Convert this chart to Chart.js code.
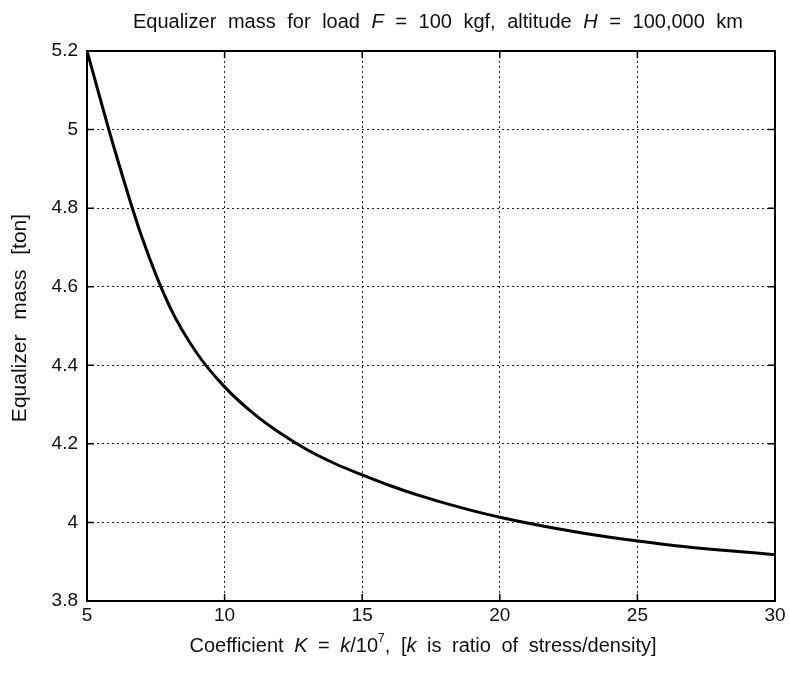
<!DOCTYPE html>
<html>
<head>
<meta charset="utf-8">
<script src="https://cdn.jsdelivr.net/npm/chart.js@4.4.1/dist/chart.umd.min.js"></script>
<style>
  html, body { margin: 0; padding: 0; background: #fff; }
  #wrap { width: 789px; height: 675px; }
</style>
</head>
<body>
<div id="wrap"><canvas id="chart" width="789" height="675"></canvas></div>
<script>
// values
const kValues = [5, 6, 7, 8, 9, 10, 11, 12, 13, 14, 15, 16, 17, 18, 19, 20, 22, 24, 26, 28, 30];
const massValues = [5.2, 4.95, 4.725, 4.55, 4.43, 4.345, 4.28, 4.228, 4.185, 4.15, 4.121, 4.094, 4.07, 4.049, 4.03, 4.013, 3.985, 3.962, 3.944, 3.93, 3.918];
const xTicks = [5, 10, 15, 20, 25, 30];
const yTicks = [3.8, 4, 4.2, 4.4, 4.6, 4.8, 5, 5.2];

const FONT = '"Liberation Sans", Arial, Helvetica, sans-serif';

// title pieces, some in italics
const titleParts = [
  { t: 'Equalizer mass for load ' }, { t: 'F', i: true }, { t: ' = 100 kgf, altitude ' },
  { t: 'H', i: true }, { t: ' = 100,000 km' }
];
const xLabelParts = [
  { t: 'Coefficient ' }, { t: 'K', i: true }, { t: ' = ' }, { t: 'k', i: true }, { t: '/10' },
  { t: '7', sup: true }, { t: ', [' }, { t: 'k', i: true }, { t: ' is ratio of stress/density]' }
];
const yLabel = 'Equalizer mass [ton]';

function fontFor(p, size) {
  const s = p.sup ? Math.round(size * 0.62) : size;
  return (p.i ? 'italic ' : '') + s + 'px ' + FONT;
}

// draws segments centred at cx, with a bit of extra space between words
function drawRich(ctx, parts, cx, cy, size, gap) {
  const pieces = [];
  parts.forEach(p => {
    ctx.font = fontFor(p, size);
    const words = p.t.split(' ');
    words.forEach((w, idx) => {
      if (w.length) pieces.push({ p, w, width: ctx.measureText(w).width });
      if (idx < words.length - 1) {
        ctx.font = fontFor({}, size);
        pieces.push({ space: true, width: ctx.measureText(' ').width + gap });
      }
    });
  });
  const total = pieces.reduce((a, b) => a + b.width, 0);
  let x = cx - total / 2;
  ctx.textBaseline = 'middle';
  ctx.textAlign = 'left';
  pieces.forEach(pc => {
    if (!pc.space) {
      ctx.font = fontFor(pc.p, size);
      ctx.fillText(pc.w, x, pc.p.sup ? cy - size * 0.35 : cy);
    }
    x += pc.width;
  });
}

const framePlugin = {
  id: 'frame',
  afterDatasetsDraw(chart) {
    const { ctx, chartArea: a, scales } = chart;
    ctx.save();
    ctx.strokeStyle = '#000';
    ctx.lineWidth = 1.5;
    // inward ticks on all four sides
    ctx.beginPath();
    xTicks.forEach(v => {
      const x = scales.x.getPixelForValue(v);
      ctx.moveTo(x, a.bottom); ctx.lineTo(x, a.bottom - 7);
      ctx.moveTo(x, a.top); ctx.lineTo(x, a.top + 7);
    });
    yTicks.forEach(v => {
      const y = scales.y.getPixelForValue(v);
      ctx.moveTo(a.left, y); ctx.lineTo(a.left + 7, y);
      ctx.moveTo(a.right, y); ctx.lineTo(a.right - 7, y);
    });
    ctx.stroke();
    ctx.lineWidth = 2;
    ctx.strokeRect(a.left, a.top, a.right - a.left, a.bottom - a.top);
    ctx.restore();
  },
  afterDraw(chart) {
    const { ctx } = chart;
    ctx.save();
    ctx.fillStyle = '#111';
    drawRich(ctx, titleParts, 438, 22, 20, 6);
    drawRich(ctx, xLabelParts, 423, 646, 20, 5);
    ctx.translate(20, 318);
    ctx.rotate(-Math.PI / 2);
    drawRich(ctx, [{ t: yLabel }], 0, 0, 21, 9);
    ctx.restore();
  }
};

new Chart(document.getElementById('chart'), {
  type: 'line',
  data: {
    datasets: [{
      data: kValues.map((k, i) => ({ x: k, y: massValues[i] })),
      borderColor: '#000',
      borderWidth: 3,
      pointRadius: 0,
      fill: false,
      cubicInterpolationMode: 'monotone'
    }]
  },
  options: {
    responsive: false,
    animation: false,
    layout: { padding: { top: 51, right: 14, left: 0, bottom: 0 } },
    plugins: { legend: { display: false }, tooltip: { enabled: false } },
    scales: {
      x: {
        type: 'linear',
        min: 5, max: 30,
        afterBuildTicks: s => { s.ticks = xTicks.map(v => ({ value: v })); },
        afterFit: s => { s.height = 675 - 601; },
        ticks: { color: '#111', font: { family: FONT, size: 19 }, padding: 3, maxRotation: 0 },
        grid: { color: '#222', lineWidth: 1, drawTicks: false },
        border: { display: false, dash: [2, 3] }
      },
      y: {
        type: 'linear',
        min: 3.8, max: 5.2,
        afterBuildTicks: s => { s.ticks = yTicks.map(v => ({ value: v })); },
        afterFit: s => { s.width = 87; },
        ticks: { color: '#111', font: { family: FONT, size: 19 }, padding: 9, callback: v => String(+v.toFixed(1)) },
        grid: { color: '#222', lineWidth: 1, drawTicks: false },
        border: { display: false, dash: [2, 3] }
      }
    }
  },
  plugins: [framePlugin]
});
</script>
</body>
</html>
